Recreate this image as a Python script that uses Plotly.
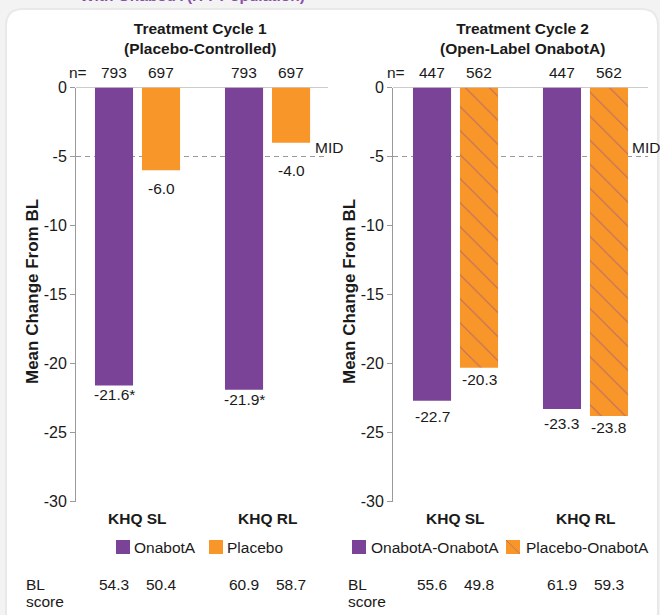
import plotly.graph_objects as go

W, H = 660, 615

# ---------------- data ----------------
categories = ["KHQ SL", "KHQ RL"]
c1_onabota = [-21.6, -21.9]
c1_placebo = [-6.0, -4.0]
c2_ona_ona = [-22.7, -23.3]
c2_pla_ona = [-20.3, -23.8]
c1_lab_ona = ["-21.6*", "-21.9*"]
c1_lab_pla = ["-6.0", "-4.0"]
c2_lab_ona = ["-22.7", "-23.3"]
c2_lab_pla = ["-20.3", "-23.8"]
c1_n_ona = ["793", "793"]
c1_n_pla = ["697", "697"]
c2_n_ona = ["447", "447"]
c2_n_pla = ["562", "562"]
c1_bl_ona = ["54.3", "60.9"]
c1_bl_pla = ["50.4", "58.7"]
c2_bl_ona = ["55.6", "61.9"]
c2_bl_pla = ["49.8", "59.3"]
y_ticks = [0, -5, -10, -15, -20, -25, -30]
mid_value = -5
titles = ["Treatment Cycle 1<br>(Placebo-Controlled)", "Treatment Cycle 2<br>(Open-Label OnabotA)"]
legend1 = ["OnabotA", "Placebo"]
legend2 = ["OnabotA-OnabotA", "Placebo-OnabotA"]

# ---------------- style ----------------
PURPLE = "#7B4397"
ORANGE = "#F8962A"
GRAY = "#9a9a9a"
TXT = "#1a1a1a"
FONT = "Liberation Sans, Arial, sans-serif"
FS = 15.5
BARGAP, GROUPGAP = 0.277, 0.19
OFF = (1 - BARGAP) / 4


def X(p):
    return p / W


def Y(p):
    return 1 - p / H


def rrect(x0, y0, x1, y1, r):
    return (f"M {X(x0+r)},{Y(y0)} L {X(x1-r)},{Y(y0)} Q {X(x1)},{Y(y0)} {X(x1)},{Y(y0+r)} "
            f"L {X(x1)},{Y(y1-r)} Q {X(x1)},{Y(y1)} {X(x1-r)},{Y(y1)} "
            f"L {X(x0+r)},{Y(y1)} Q {X(x0)},{Y(y1)} {X(x0)},{Y(y1-r)} "
            f"L {X(x0)},{Y(y0+r)} Q {X(x0)},{Y(y0)} {X(x0+r)},{Y(y0)} Z")


hatch = dict(shape="\\", fgcolor=PURPLE, bgcolor=ORANGE, size=17, solidity=0.06)

fig = go.Figure()
fig.add_trace(go.Bar(x=categories, y=c1_onabota, marker=dict(color=PURPLE, line_width=0),
                     xaxis="x", yaxis="y", showlegend=False, hoverinfo="skip"))
fig.add_trace(go.Bar(x=categories, y=c1_placebo, marker=dict(color=ORANGE, line_width=0),
                     xaxis="x", yaxis="y", showlegend=False, hoverinfo="skip"))
fig.add_trace(go.Bar(x=categories, y=c2_ona_ona, marker=dict(color=PURPLE, line_width=0),
                     xaxis="x2", yaxis="y2", showlegend=False, hoverinfo="skip"))
fig.add_trace(go.Bar(x=categories, y=c2_pla_ona, marker=dict(color=ORANGE, line_width=0, pattern=hatch),
                     xaxis="x2", yaxis="y2", showlegend=False, hoverinfo="skip"))
# hatched legend swatch
fig.add_trace(go.Bar(x=[0], y=[1], width=1,
                     marker=dict(color=ORANGE, line_width=0,
                                 pattern=dict(shape="\\", fgcolor=PURPLE, bgcolor=ORANGE, size=14, solidity=0.06)),
                     xaxis="x3", yaxis="y3", showlegend=False, hoverinfo="skip"))

ydom = [Y(501.5), Y(87.5)]
yax = dict(range=[-30, 0], tickvals=y_ticks, ticktext=[str(v) for v in y_ticks],
           ticks="outside", ticklen=5, tickcolor=GRAY, showline=True, linecolor=GRAY, linewidth=1,
           showgrid=False, zeroline=False, tickfont=dict(family=FONT, size=16, color=TXT), domain=ydom,
           automargin=False, fixedrange=True)
xax = dict(showticklabels=False, showline=False, showgrid=False, zeroline=False, ticks="",
           automargin=False, fixedrange=True)

fig.update_layout(
    width=W, height=H, autosize=False,
    margin=dict(l=0, r=0, t=0, b=0, pad=0, autoexpand=False),
    paper_bgcolor="#f3f3f3", plot_bgcolor="rgba(0,0,0,0)",
    barmode="group", bargap=BARGAP, bargroupgap=GROUPGAP,
    font=dict(family=FONT, size=FS, color=TXT),
    showlegend=False,
    xaxis=dict(xax, domain=[X(76), X(328)], range=[-0.473, 1.465], anchor="y"),
    yaxis=dict(yax, anchor="x"),
    xaxis2=dict(xax, domain=[X(393), X(648)], range=[-0.481, 1.481], anchor="y2"),
    yaxis2=dict(yax, anchor="x2"),
    xaxis3=dict(domain=[X(506), X(520)], range=[-0.5, 0.5], visible=False, anchor="y3", automargin=False),
    yaxis3=dict(domain=[Y(554), Y(540)], range=[0, 1], visible=False, anchor="x3", automargin=False),
)

shapes = [
    dict(type="path", path=rrect(5, 8, 659, 660, 18), xref="paper", yref="paper",
         fillcolor="#e9e9e9", line_width=0, layer="below"),
    dict(type="path", path=rrect(7, 10, 657, 660, 16), xref="paper", yref="paper",
         fillcolor="white", line_width=0, layer="below"),
]
for xa, ya in [("x", "y"), ("x2", "y2")]:
    shapes.append(dict(type="line", xref=f"{xa} domain", yref=ya, x0=0, x1=1, y0=0, y1=0,
                       line=dict(color=GRAY, width=1), layer="below"))
    shapes.append(dict(type="line", xref=f"{xa} domain", yref=ya, x0=0, x1=1, y0=mid_value, y1=mid_value,
                       line=dict(color=GRAY, width=1, dash="5px,4px"), layer="below"))
# solid legend swatches
for (x0, col) in [(116, PURPLE), (209, ORANGE), (352, PURPLE)]:
    shapes.append(dict(type="rect", xref="paper", yref="paper", x0=X(x0), x1=X(x0 + 14),
                       y0=Y(554), y1=Y(540), fillcolor=col, line_width=0))
fig.update_layout(shapes=shapes)

ann = []


def A(text, x, y, xref="paper", yref="paper", **kw):
    d = dict(text=text, x=x, y=y, xref=xref, yref=yref, showarrow=False,
             xanchor=kw.pop("xanchor", "center"), yanchor=kw.pop("yanchor", "middle"),
             font=dict(family=FONT, size=kw.pop("size", FS), color=kw.pop("color", TXT)))
    d.update(kw)
    ann.append(d)


# truncated heading at top
A("<b>With OnabotA (ITT Population)</b>", X(192), Y(6), yanchor="bottom", color="#8a4fa8")
# panel titles
A("<b>" + titles[0].replace("<br>", "</b><br><b>") + "</b>", X(200), Y(38.5))
A("<b>" + titles[1].replace("<br>", "</b><br><b>") + "</b>", X(522), Y(38.5))
# y titles
A("<b>Mean Change From BL</b>", X(32), Y(292), textangle=-90, size=17)
A("<b>Mean Change From BL</b>", X(349), Y(292), textangle=-90, size=17)
# n= labels
A("n=", X(78), Y(73))
A("n=", X(396), Y(73))
panels = [
    ("x", "y", c1_onabota, c1_placebo, c1_lab_ona, c1_lab_pla, c1_n_ona, c1_n_pla, c1_bl_ona, c1_bl_pla),
    ("x2", "y2", c2_ona_ona, c2_pla_ona, c2_lab_ona, c2_lab_pla, c2_n_ona, c2_n_pla, c2_bl_ona, c2_bl_pla),
]
label_shift = {("x", 0, 0): 9, ("x", 0, 1): 10, ("x", 1, 0): 18, ("x", 1, 1): 28,
               ("x2", 0, 0): 16, ("x2", 0, 1): 14}
for xa, ya, v1, v2, l1, l2, n1, n2, b1, b2 in panels:
    for i, cat in enumerate(categories):
        for k, (vals, labs, ns, bls) in enumerate([(v1, l1, n1, b1), (v2, l2, n2, b2)]):
            xpos = i + (-OFF if k == 0 else OFF)
            A(ns[i], xpos, Y(73), xref=xa)
            A(bls[i], xpos, Y(584), xref=xa)
            A(labs[i], xpos, vals[i], xref=xa, yref=ya, yshift=-label_shift.get((xa, k, i), 12))
        A("<b>" + cat + "</b>", i, Y(518), xref=xa)
# MID labels
A("MID", X(313), Y(147), xanchor="left")
A("MID", X(630), Y(147), xanchor="left")
# legends
A(legend1[0], X(132), Y(547), xanchor="left")
A(legend1[1], X(225), Y(547), xanchor="left")
A(legend2[0], X(369), Y(547), xanchor="left")
A(legend2[1], X(524), Y(547), xanchor="left")
# BL score
A("BL", X(24), Y(584), xanchor="left")
A("score", X(24), Y(601), xanchor="left")
A("BL", X(346), Y(584), xanchor="left")
A("score", X(346), Y(601), xanchor="left")

fig.update_layout(annotations=ann)
fig.write_html("out.html", config={"displayModeBar": False, "staticPlot": True},
               post_script="document.body.style.margin='0';document.body.style.overflow='hidden';")
